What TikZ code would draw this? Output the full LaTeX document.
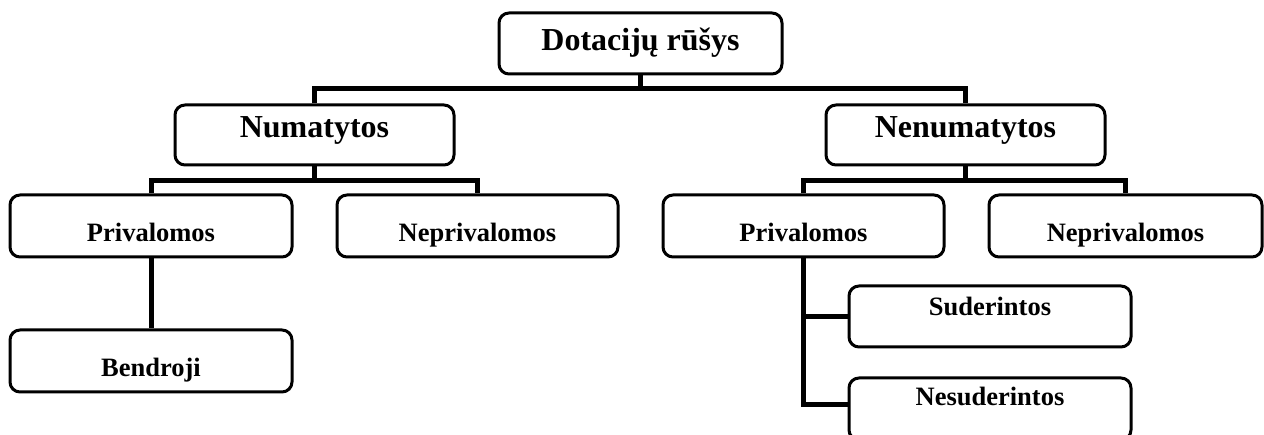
\documentclass[tikz,border=0pt]{standalone}
\usepackage{fontspec}
\setmainfont{Liberation Serif}
\begin{document}
\begin{tikzpicture}[x=1pt,y=-1pt,
  box/.style={draw=black, line width=3pt, rounded corners=10pt, fill=white,
    inner xsep=0pt, inner ysep=0pt, align=center, anchor=base,
    font=\bfseries\fontsize{26.5}{30}\selectfont},
  big/.style={font=\bfseries\fontsize{32}{36}\selectfont},
  link/.style={draw=black, line width=5pt}]
\useasboundingbox (0,0) rectangle (1264,435);

% main node
\node[box, big, minimum width=283pt, text height=38pt, text depth=23pt]
  (top) at (640.5,51) {Dotacijų rūšys};

% second level
\node[box, big, minimum width=279pt, text height=33pt, text depth=27pt]
  (num) at (314.5,138) {Numatytos};
\node[box, big, minimum width=279pt, text height=33pt, text depth=27pt]
  (nen) at (965.5,138) {Nenumatytos};

% third level
\node[box, minimum width=282pt, text height=47pt, text depth=15pt]
  (privL) at (151,242) {Privalomos};
\node[box, minimum width=281pt, text height=47pt, text depth=15pt]
  (neprL) at (477.5,242) {Neprivalomos};
\node[box, minimum width=281pt, text height=47pt, text depth=15pt]
  (privR) at (803.5,242) {Privalomos};
\node[box, minimum width=273pt, text height=47pt, text depth=15pt]
  (neprR) at (1125.5,242) {Neprivalomos};

% fourth level
\node[box, minimum width=282pt, text height=47pt, text depth=15pt]
  (bend) at (151,377) {Bendroji};
\node[box, minimum width=282pt, text height=30pt, text depth=31pt]
  (sud) at (990,316) {Suderintos};
\node[box, minimum width=282pt, text height=28pt, text depth=34pt]
  (nes) at (990,406) {Nesuderintos};

% bus junctions
\coordinate (b1) at (640.5,89);
\coordinate (b2) at (314.5,181);
\coordinate (b3) at (965.5,181);

% connectors
\draw[link] (top.south) -- (b1);
\draw[link] (num.north) |- (b1) -| (nen.north);
\draw[link] (num.south) -- (b2);
\draw[link] (privL.north) |- (b2) -| (neprL.north);
\draw[link] (nen.south) -- (b3);
\draw[link] (privR.north) |- (b3) -| (neprR.north);
\draw[link] (privL.south) -- (bend.north);
\draw[link] (privR.south) |- (sud.west);
\draw[link] (privR.south) |- ([yshift=4pt]nes.west);
\end{tikzpicture}
\end{document}
